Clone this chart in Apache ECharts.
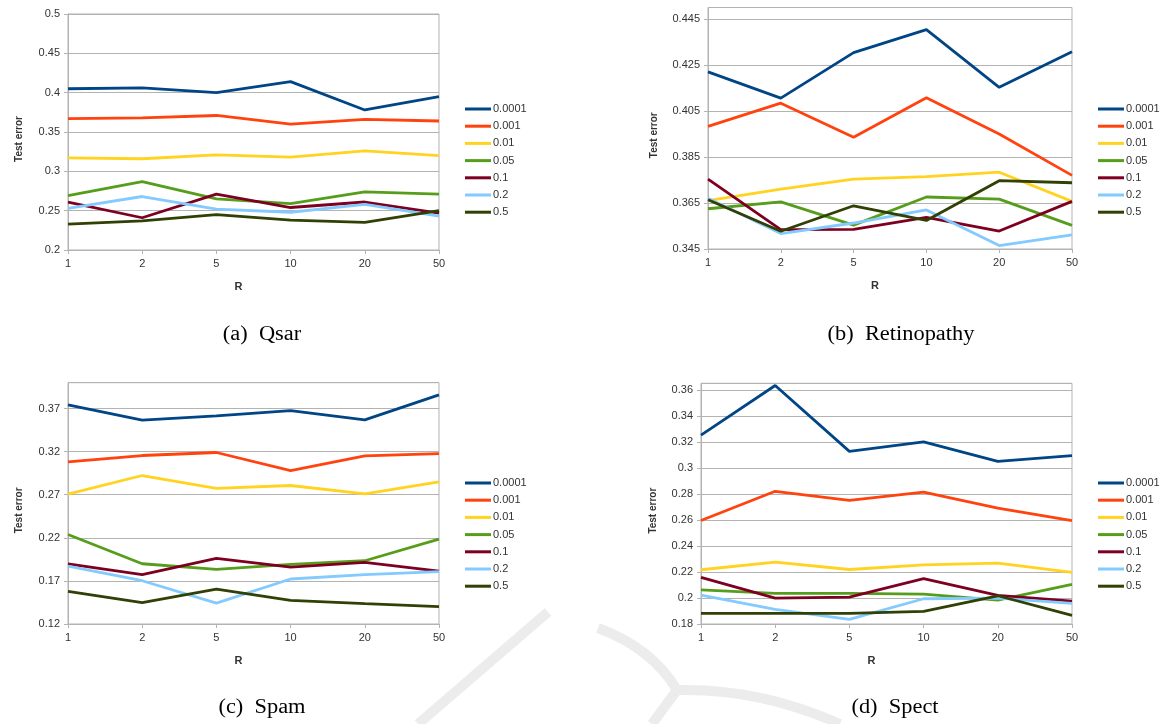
<!DOCTYPE html>
<html>
<head>
<meta charset="utf-8">
<script src="https://cdn.jsdelivr.net/npm/echarts@6/dist/echarts.min.js"></script>
<style>
html,body{margin:0;padding:0;background:#fff;}
#chart{width:1161px;height:724px;}
</style>
</head>
<body>
<div id="chart"></div>
<script>
// ---- data ----
const categories = ['1', '2', '5', '10', '20', '50'];
const seriesNames = ['0.0001', '0.001', '0.01', '0.05', '0.1', '0.2', '0.5'];
const seriesColors = ['#004586', '#ff420e', '#ffd320', '#579d1c', '#7e0021', '#83caff', '#314004'];

const qsarValues = [
  [0.405, 0.406, 0.400, 0.414, 0.378, 0.395],
  [0.367, 0.368, 0.371, 0.360, 0.366, 0.364],
  [0.317, 0.316, 0.321, 0.318, 0.326, 0.320],
  [0.269, 0.287, 0.265, 0.259, 0.274, 0.271],
  [0.261, 0.241, 0.271, 0.254, 0.261, 0.247],
  [0.253, 0.268, 0.252, 0.248, 0.258, 0.243],
  [0.233, 0.237, 0.245, 0.238, 0.235, 0.250]
];
const retinopathyValues = [
  [0.4220, 0.4106, 0.4304, 0.4404, 0.4153, 0.4308],
  [0.3983, 0.4084, 0.3936, 0.4108, 0.3950, 0.3770],
  [0.3660, 0.3710, 0.3754, 0.3765, 0.3784, 0.3657],
  [0.3625, 0.3655, 0.3554, 0.3676, 0.3667, 0.3553],
  [0.3754, 0.3534, 0.3535, 0.3588, 0.3528, 0.3657],
  [0.3671, 0.3517, 0.3563, 0.3620, 0.3465, 0.3511],
  [0.3664, 0.3527, 0.3638, 0.3574, 0.3747, 0.3738]
];
const spamValues = [
  [0.3743, 0.3565, 0.3615, 0.3677, 0.3569, 0.3858],
  [0.3082, 0.3155, 0.3190, 0.2981, 0.3151, 0.3178],
  [0.2707, 0.2923, 0.2773, 0.2807, 0.2711, 0.2850],
  [0.2239, 0.1899, 0.1834, 0.1892, 0.1934, 0.2185],
  [0.1899, 0.1772, 0.1961, 0.1861, 0.1915, 0.1814],
  [0.1872, 0.1702, 0.1443, 0.1722, 0.1772, 0.1807],
  [0.1579, 0.1447, 0.1606, 0.1474, 0.1436, 0.1401]
];
const spectValues = [
  [0.3252, 0.3633, 0.3127, 0.3199, 0.3050, 0.3094],
  [0.2595, 0.2820, 0.2751, 0.2813, 0.2690, 0.2595],
  [0.2217, 0.2276, 0.2219, 0.2255, 0.2268, 0.2196],
  [0.2063, 0.2035, 0.2035, 0.2030, 0.1984, 0.2104],
  [0.2158, 0.1999, 0.2007, 0.2148, 0.2020, 0.1976],
  [0.2022, 0.1913, 0.1836, 0.1994, 0.1999, 0.1958],
  [0.1882, 0.1882, 0.1882, 0.1897, 0.2017, 0.1867]
];

const captions = ['(a)  Qsar', '(b)  Retinopathy', '(c)  Spam', '(d)  Spect'];
const xAxisTitle = 'R';
const yAxisTitle = 'Test error';

// y-axis ranges per panel: [min, max, interval]
const yRanges = [
  [0.2, 0.5, 0.05],
  [0.345, 0.45, 0.02],
  [0.12, 0.40, 0.05],
  [0.18, 0.365, 0.02]
];

// ---- layout ----
const panels = [
  { data: qsarValues,        left: 68,  right: 1161 - 439,  top: 14,    bottom: 724 - 250, legendLeft: 460,  legendTop: 98,  cap: [262, 335], yGap: 44 },
  { data: retinopathyValues, left: 708, right: 1161 - 1072, top: 7.5,   bottom: 724 - 249, legendLeft: 1093, legendTop: 98,  cap: [901, 335], yGap: 49 },
  { data: spamValues,        left: 68,  right: 1161 - 439,  top: 382.7, bottom: 724 - 624, legendLeft: 460,  legendTop: 472, cap: [262, 708], yGap: 44 },
  { data: spectValues,       left: 701, right: 1161 - 1072, top: 383.3, bottom: 724 - 624, legendLeft: 1093, legendTop: 472, cap: [895, 708], yGap: 43 }
];

const grey = '#b3b3b3';
const txt = '#333333';
const fontFam = '"Liberation Sans", Arial, sans-serif';
const wmStyle = { stroke: '#ececec', lineWidth: 10, fill: null };

const grids = [], xAxes = [], yAxes = [], series = [], legends = [];
const graphics = [
  // faint publisher watermark strokes
  { type: 'line', z: -10, silent: true, shape: { x1: 548, y1: 612, x2: 418, y2: 724 }, style: wmStyle },
  { type: 'bezierCurve', z: -10, silent: true, shape: { x1: 598, y1: 628, cpx1: 652, cpy1: 648, x2: 677, y2: 690 }, style: wmStyle },
  { type: 'line', z: -10, silent: true, shape: { x1: 677, y1: 690, x2: 652, y2: 724 }, style: wmStyle },
  { type: 'bezierCurve', z: -10, silent: true, shape: { x1: 677, y1: 690, cpx1: 760, cpy1: 688, x2: 840, y2: 724 }, style: wmStyle }
];

panels.forEach((p, i) => {
  grids.push({ left: p.left, right: p.right, top: p.top, bottom: p.bottom, show: true, borderColor: grey, borderWidth: 1, backgroundColor: 'transparent' });
  xAxes.push({
    type: 'category', gridIndex: i, data: categories, boundaryGap: false,
    name: xAxisTitle, nameLocation: 'middle', nameGap: 31,
    nameTextStyle: { fontWeight: 'bold', fontSize: 11, color: txt, fontFamily: fontFam, padding: [0, 30, 0, 0] },
    axisLine: { show: true, lineStyle: { color: grey } },
    axisTick: { show: true, length: 4, lineStyle: { color: grey } },
    axisLabel: { color: txt, fontSize: 11, fontFamily: fontFam, margin: 8 },
    splitLine: { show: false }
  });
  yAxes.push({
    type: 'value', gridIndex: i, min: yRanges[i][0], max: yRanges[i][1], interval: yRanges[i][2],
    name: yAxisTitle, nameLocation: 'middle', nameGap: p.yGap, nameRotate: 90,
    nameTextStyle: { fontWeight: 'bold', fontSize: 10, color: txt, fontFamily: fontFam, padding: [0, 0, 0, -14] },
    axisLine: { show: true, lineStyle: { color: grey } },
    axisTick: { show: true, length: 4, lineStyle: { color: grey } },
    axisLabel: { color: txt, fontSize: 11, fontFamily: fontFam, margin: 8, showMaxLabel: i === 0,
      formatter: v => String(+v.toFixed(3)) },
    splitLine: { show: true, lineStyle: { color: grey, width: 1 } }
  });
  seriesNames.forEach((name, k) => {
    series.push({
      type: 'line', name: name, xAxisIndex: i, yAxisIndex: i,
      data: p.data[k], showSymbol: false, symbol: 'none', smooth: false,
      lineStyle: { color: seriesColors[k], width: 2.8 }, itemStyle: { color: seriesColors[k] },
      emphasis: { disabled: true }, animation: false
    });
  });
  legends.push({
    orient: 'vertical', left: p.legendLeft, top: p.legendTop, data: seriesNames,
    icon: 'rect', itemWidth: 26, itemHeight: 3, itemGap: 5.2,
    textStyle: { color: txt, fontSize: 11, fontFamily: fontFam, lineHeight: 12, padding: [0, 0, 0, -3] },
    selectedMode: false
  });
  graphics.push({
    type: 'text', x: p.cap[0], y: p.cap[1], scaleX: 1.12,
    style: { text: captions[i], font: '20px "Liberation Serif", "Times New Roman", serif', fill: '#000', align: 'center', verticalAlign: 'middle' }
  });
});

const chart = echarts.init(document.getElementById('chart'), null, { renderer: 'canvas' });
chart.setOption({
  backgroundColor: '#ffffff',
  animation: false,
  color: seriesColors,
  grid: grids,
  xAxis: xAxes,
  yAxis: yAxes,
  legend: legends,
  series: series,
  graphic: graphics
});
</script>
</body>
</html>
